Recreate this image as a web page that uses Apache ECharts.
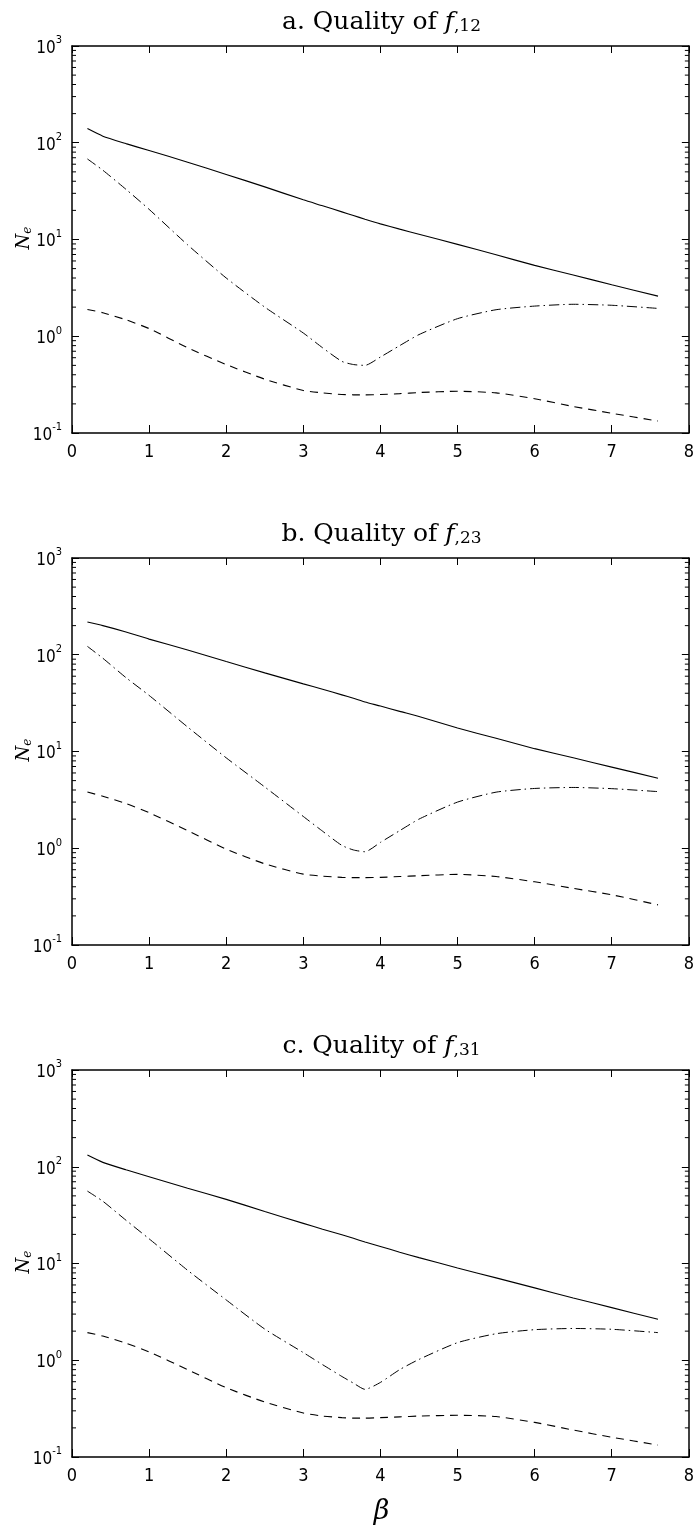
<!DOCTYPE html>
<html>
<head>
<meta charset="utf-8">
<script src="https://cdn.jsdelivr.net/npm/echarts@6/dist/echarts.min.js"></script>
<style>
html,body{margin:0;padding:0;background:#fff;}
#chart{width:697px;height:1530px;}
</style>
</head>
<body>
<div id="chart"></div>
<script>
// ---- data ----
const betaValues = [0.2, 0.4, 0.7, 1.0, 1.5, 2.0, 2.5, 3.0, 3.25, 3.5, 3.65, 3.8, 4.0, 4.25, 4.5, 5.0, 5.5, 6.0, 6.5, 7.0, 7.6];

const solidA   = [140, 117, 98, 83, 63, 47, 35, 25.7, 22.3, 19.3, 17.7, 16.2, 14.5, 12.8, 11.35, 8.9, 6.95, 5.4, 4.3, 3.4, 2.6];
const dashDotA = [68, 52, 33, 20.5, 8.8, 4.0, 2.0, 1.08, 0.76, 0.55, 0.51, 0.5, 0.61, 0.8, 1.04, 1.52, 1.88, 2.05, 2.14, 2.09, 1.94];
const dashedA  = [1.89, 1.75, 1.48, 1.2, 0.76, 0.51, 0.36, 0.275, 0.26, 0.25, 0.248, 0.248, 0.25, 0.255, 0.262, 0.27, 0.26, 0.226, 0.188, 0.16, 0.133];

const solidB   = [218, 200, 172, 145, 112, 85, 65, 50, 44, 38.5, 35.5, 32.5, 29.5, 26, 23, 17.5, 13.7, 10.7, 8.6, 6.9, 5.3];
const dashDotB = [122, 92, 58, 38, 17.9, 8.6, 4.3, 2.13, 1.5, 1.07, 0.96, 0.92, 1.15, 1.52, 2.0, 3.0, 3.8, 4.15, 4.25, 4.13, 3.85];
const dashedB  = [3.81, 3.45, 2.9, 2.33, 1.52, 0.98, 0.69, 0.54, 0.515, 0.5, 0.497, 0.497, 0.5, 0.51, 0.52, 0.537, 0.51, 0.45, 0.385, 0.33, 0.26];

const solidC   = [132, 111, 93, 79, 60, 46, 34.5, 26, 22.6, 19.8, 18.2, 16.7, 15, 13.1, 11.5, 9.0, 7.1, 5.6, 4.4, 3.5, 2.65];
const dashDotC = [56, 44, 28, 18, 8.5, 4.2, 2.1, 1.2, 0.9, 0.68, 0.58, 0.5, 0.59, 0.8, 1.02, 1.52, 1.88, 2.07, 2.13, 2.09, 1.93];
const dashedC  = [1.93, 1.78, 1.5, 1.22, 0.8, 0.52, 0.37, 0.285, 0.265, 0.255, 0.252, 0.252, 0.255, 0.26, 0.265, 0.27, 0.262, 0.228, 0.19, 0.16, 0.133];

const panelTitles = [
  {letter: 'a.', sub: ',12'},
  {letter: 'b.', sub: ',23'},
  {letter: 'c.', sub: ',31'}
];
const xTickLabels = ['0','1','2','3','4','5','6','7','8'];
const minorTickValues = [0.2,0.3,0.4,0.5,0.6,0.7,0.8,0.9, 2,3,4,5,6,7,8,9, 20,30,40,50,60,70,80,90, 200,300,400,500,600,700,800,900];

const panels = [
  {solid: solidA, dashDot: dashDotA, dashed: dashedA},
  {solid: solidB, dashDot: dashDotB, dashed: dashedB},
  {solid: solidC, dashDot: dashDotC, dashed: dashedC}
];

// ---- layout ----
const LEFT = 72, WIDTH = 619, HEIGHT = 387;
const TOPS = [46, 558, 1070];
const labelFont = "'Liberation Sans Narrow', 'DejaVu Sans Condensed', 'Liberation Sans', sans-serif";
const serif = "'DejaVu Serif', 'Liberation Serif', serif";

const grids = [], xAxes = [], yAxes = [], series = [], graphics = [];

const pairs = arr => betaValues.map((b, i) => [b, arr[i]]);

TOPS.forEach((top, p) => {
  grids.push({left: LEFT, top: top, width: WIDTH, height: HEIGHT, containLabel: false});
  const axisLine = {show: true, onZero: false, lineStyle: {color: '#000', width: 1.5}};
  xAxes.push({
    type: 'value', gridIndex: p, position: 'bottom', min: 0, max: 8, interval: 1,
    axisLine: axisLine,
    axisTick: {show: true, inside: true, length: 8, lineStyle: {color: '#000', width: 1}},
    axisLabel: {show: true, margin: 10, color: '#000', fontSize: 18, fontFamily: labelFont,
      formatter: v => xTickLabels[Math.round(v)]},
    splitLine: {show: false}
  });
  xAxes.push({
    type: 'value', gridIndex: p, position: 'top', min: 0, max: 8, interval: 1,
    axisLine: axisLine,
    axisTick: {show: true, inside: true, length: 7, lineStyle: {color: '#000', width: 1}},
    axisLabel: {show: false}, splitLine: {show: false}
  });
  yAxes.push({
    type: 'log', logBase: 10, gridIndex: p, position: 'left', min: 0.1, max: 1000, interval: 1,
    axisLine: axisLine,
    axisTick: {show: true, inside: true, length: 7, lineStyle: {color: '#000', width: 1}},
    axisLabel: {show: true, margin: 10, color: '#000', fontFamily: labelFont,
      formatter: v => '{b|10}{s|' + Math.round(Math.log10(v)) + '}',
      rich: {
        b: {fontSize: 17, fontFamily: labelFont, color: '#000', lineHeight: 22, verticalAlign: 'bottom'},
        s: {fontSize: 11, fontFamily: labelFont, color: '#000', lineHeight: 22, verticalAlign: 'top'}
      }},
    splitLine: {show: false}
  });
  yAxes.push({
    type: 'log', logBase: 10, gridIndex: p, position: 'right', min: 0.1, max: 1000, interval: 1,
    axisLine: axisLine,
    axisTick: {show: true, inside: true, length: 7, lineStyle: {color: '#000', width: 1}},
    axisLabel: {show: false}, splitLine: {show: false}
  });

  const xi = p * 2, yi = p * 2;
  const d = panels[p];
  series.push({type: 'line', xAxisIndex: xi, yAxisIndex: yi, data: pairs(d.solid), symbol: 'none', smooth: 0.2,
    lineStyle: {color: '#000', width: 1.1, type: 'solid'}, silent: true});
  series.push({type: 'line', xAxisIndex: xi, yAxisIndex: yi, data: pairs(d.dashDot), symbol: 'none', smooth: 0.2,
    lineStyle: {color: '#000', width: 1, type: [10, 4, 1.5, 4]}, silent: true});
  series.push({type: 'line', xAxisIndex: xi, yAxisIndex: yi, data: pairs(d.dashed), symbol: 'none', smooth: 0.2,
    lineStyle: {color: '#000', width: 1.1, type: [8, 6]}, silent: true});
  series.push({
    type: 'custom', xAxisIndex: xi, yAxisIndex: yi, silent: true, clip: false,
    data: minorTickValues.map(v => [0, v]),
    encode: {x: 0, y: 1},
    renderItem: function (params, api) {
      const v = api.value(1);
      const a = api.coord([0, v]);
      const b = api.coord([8, v]);
      const st = {stroke: '#000', lineWidth: 1};
      return {type: 'group', children: [
        {type: 'line', shape: {x1: a[0], y1: a[1], x2: a[0] + 4, y2: a[1]}, style: st},
        {type: 'line', shape: {x1: b[0] - 4, y1: b[1], x2: b[0], y2: b[1]}, style: st}
      ]};
    }
  });

  const t = panelTitles[p];
  graphics.push({
    type: 'text', x: LEFT + WIDTH / 2, y: top - 24,
    style: {
      text: '{r|' + t.letter + ' Quality of }{i|f}{s|' + t.sub + '}',
      align: 'center', verticalAlign: 'middle',
      rich: {
        r: {fontSize: 25, fontFamily: serif, fill: '#000', lineHeight: 30},
        i: {fontSize: 25, fontFamily: serif, fontStyle: 'italic', fill: '#000', lineHeight: 30},
        s: {fontSize: 17, fontFamily: serif, fill: '#000', lineHeight: 30, padding: [10, 0, 0, 0]}
      }
    }
  });
  graphics.push({
    type: 'text', x: 24, y: top + 192, rotation: Math.PI / 2,
    style: {
      text: '{n|N}{e|e}', align: 'center', verticalAlign: 'middle',
      rich: {
        n: {fontSize: 18, fontFamily: serif, fontStyle: 'italic', fill: '#000', lineHeight: 24},
        e: {fontSize: 12, fontFamily: serif, fontStyle: 'italic', fill: '#000', lineHeight: 24, padding: [8, 0, 0, 0]}
      }
    }
  });
});

graphics.push({
  type: 'text', x: LEFT + WIDTH / 2, y: 1512,
  style: {text: 'β', fontSize: 27, fontFamily: serif, fontStyle: 'italic', fill: '#000',
    align: 'center', verticalAlign: 'middle'}
});

const chart = echarts.init(document.getElementById('chart'), null, {renderer: 'canvas'});
chart.setOption({
  animation: false,
  backgroundColor: '#fff',
  grid: grids,
  xAxis: xAxes,
  yAxis: yAxes,
  series: series,
  graphic: graphics
});
</script>
</body>
</html>
